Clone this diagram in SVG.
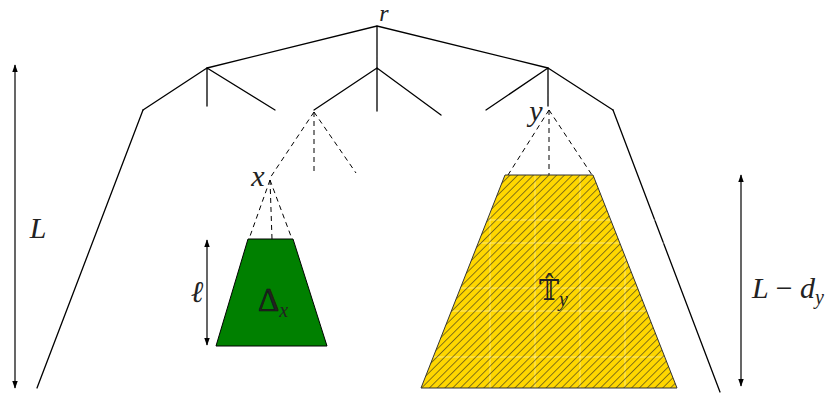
<svg xmlns="http://www.w3.org/2000/svg" width="838" height="394" viewBox="0 0 838 394">
<style>
.t{stroke:#000;stroke-width:1.3;fill:none;stroke-linecap:round}
.d{stroke:#000;stroke-width:1;fill:none;stroke-dasharray:5 4}
.m{font-family:"Liberation Serif","Times New Roman",serif;font-style:italic;font-size:30px;fill:#222}
.u{font-family:"Liberation Serif","Times New Roman",serif;font-size:30px;fill:#222}
.s{font-size:20px}
.a{stroke:#000;stroke-width:1.2;fill:none}
</style>
<defs>
<marker id="ah" viewBox="0 0 10 10" refX="9" refY="5" markerWidth="8" markerHeight="8" markerUnits="userSpaceOnUse" orient="auto-start-reverse">
<path d="M0,1.5 L10,5 L0,8.5 Z" fill="#000"/>
</marker>
<pattern id="hatch" width="5.5" height="5.5" patternUnits="userSpaceOnUse" patternTransform="rotate(45)">
<line x1="0" y1="0" x2="0" y2="5.5" stroke="#222" stroke-width="1.1"/>
</pattern>
</defs>
<g id="connectors">
<path class="t" d="M207,68 L377,26 L548,68 M377,26 L377,68"/>
<path class="t" d="M143,110 L207,68 L275,110 M207,68 L207,106"/>
<path class="t" d="M314,110 L377,68 L441,115 M377,68 L377,111"/>
<path class="t" d="M486,110 L548,68 L613,110 M548,68 L548,106"/>
<path class="t" d="M143,110 L37,388 M613,110 L720,392"/>
<path class="d" d="M314,112 L270,178 M314,112 L314,173 M314,112 L356,173"/>
<path class="d" d="M270,180 L249,239 M270,180 L272,239 M270,180 L292,239"/>
<path class="d" d="M549,110 L508,175 M549,110 L549,175 M549,110 L592,175"/>
<line class="a" x1="15" y1="65" x2="15" y2="388" stroke="#4a4200" marker-start="url(#ah)" marker-end="url(#ah)"/>
<line class="a" x1="207" y1="240" x2="207" y2="345" marker-start="url(#ah)" marker-end="url(#ah)"/>
<line class="a" x1="741" y1="175" x2="741" y2="386" marker-start="url(#ah)" marker-end="url(#ah)"/>
</g>
<g id="node-r"><text class="m" x="384" y="21" text-anchor="middle" style="font-size:24px">r</text></g>
<g id="node-x"><text class="m" x="258" y="186" text-anchor="middle">x</text></g>
<g id="node-y"><text class="m" x="536" y="121" text-anchor="middle">y</text></g>
<g id="delta-x">
<path d="M248,239 L293,239 L327,346 L216,346 Z" fill="#008000" stroke="#000" stroke-width="1"/>
<text x="258" y="311" class="u" style="font-size:33px" fill="#111" stroke="#111" stroke-width="0.6">Δ<tspan class="m s" stroke="none" dy="6">x</tspan></text>
</g>
<g id="t-y">
<path d="M505,175 L593,175 L677,388 L421,388 Z" fill="#FFD700"/>
<g stroke="#ffffff" stroke-opacity="0.45" stroke-width="1">
<path d="M490,175 V388 M535,175 V388 M580,175 V388 M625,175 V388 M421,220 H677 M421,243 H677 M421,288 H677 M421,311 H677 M421,357 H677"/>
</g>
<path d="M505,175 L593,175 L677,388 L421,388 Z" fill="url(#hatch)" stroke="#333" stroke-width="1"/>
<text x="539" y="300" font-family="'DejaVu Serif',serif" font-size="27" fill="#222">𝕋̂<tspan class="m s" dy="6">y</tspan></text>
</g>
<g id="labels">
<text class="m" x="38" y="238" text-anchor="middle">L</text>
<text class="m" x="197" y="302" text-anchor="middle">ℓ</text>
<text class="m" x="752" y="298">L <tspan font-style="normal">−</tspan> d<tspan class="s" dy="6">y</tspan></text>
</g>
</svg>
